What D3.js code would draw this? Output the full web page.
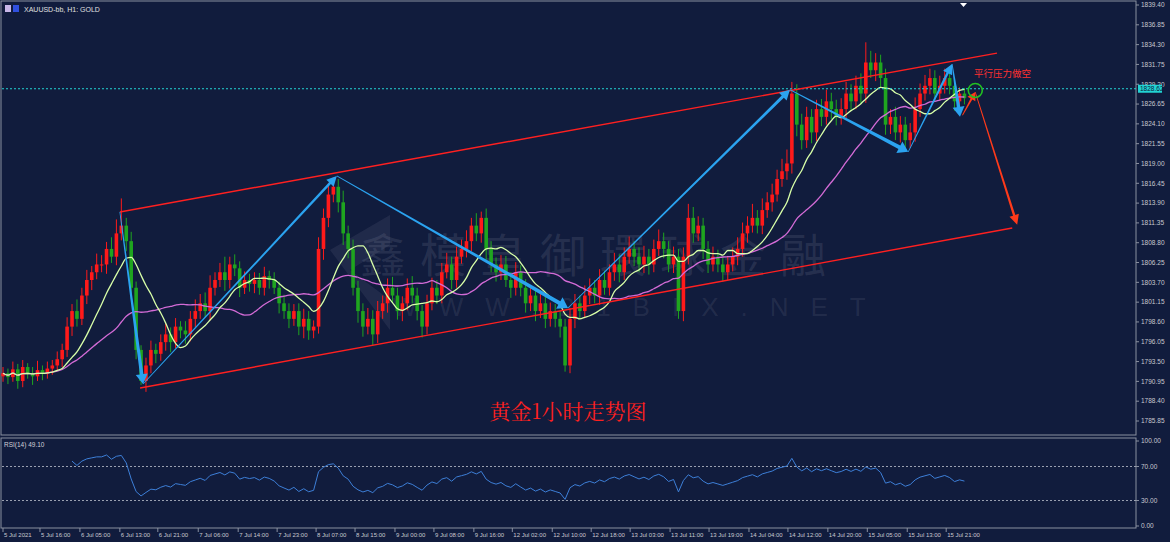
<!DOCTYPE html>
<html><head><meta charset="utf-8">
<script src="https://cdn.jsdelivr.net/npm/d3@7/dist/d3.min.js"></script>
<style>body{margin:0;background:#111c3d}svg{display:block}</style></head>
<body><svg id="c" width="1170" height="542"></svg>
<script>
const closes=[1792,1791.5,1792.5,1791,1792.8,1792,1791.6,1792.4,1792,1792.6,
1793,1793.8,1795,1798,1800,1799,1802,1804,1805,1806,
1806,1808,1807,1810,1811,1809,1803,1795,1791,1793,
1795,1794.5,1796,1797,1796,1798,1797.5,1797,1799,1800,
1801,1800,1803,1804,1805,1804,1806,1805.5,1803,1804,
1803.5,1804,1803,1804.5,1804,1803,1801,1800,1799,1800,
1798,1799,1797.5,1798,1808,1812,1815,1816,1814,1810,
1808,1803,1800,1798,1799,1797,1800,1801,1803,1802,
1800,1801,1803,1802,1800,1798,1801,1803,1802,1805,
1806,1804,1807,1808,1809,1811,1810,1812,1808,1806,
1805,1806,1804,1803,1805,1803,1801,1802,1800,1801,
1799,1800,1799,1798,1793,1799,1801,1800,1802,1803,
1802,1804,1803,1805,1806,1805,1807,1808,1807,1806,
1807,1806,1808,1809,1808,1806,1807,1800,1807,1812,
1810,1811,1808,1806,1807,1806,1805,1806,1807,1808,
1810,1811,1812,1811,1813,1814,1815,1817,1818,1819,
1828,1824,1822,1825,1823,1826,1825,1827,1826,1825,
1826,1828,1827,1829,1828,1832,1831,1832,1830,1824,
1825,1823,1824,1822,1823,1826,1828,1829,1830,1828,
1829,1830,1829,1827,1828,1827.4];
const wickUp=[.8,.6,1,.7,.9,.5,.8,1.2,.6,.9,.7,1,.8,1.2,.9,1.5,1,1.3,.8,1.4,
1.2,.9,1.5,1.8,3.5,1,1.2,.8,.6,1,1.2,.8,1,1.4,.9,1.1,.7,1.2,1,1.5,
1.2,1.4,1.6,1,1.2,2,1,1.3,.9,1.1,.8,1,.9,1.2,.7,1,.8,1.1,1,.9,
1,1.3,1,.8,1.5,1.2,1.5,1.2,1,1.5,1,1.2,.9,1,1.4,1.1,1.3,1,1.2,1.4,
1,.9,1.2,1.5,1,.8,1.1,1.3,1,1.2,1.5,1,1.3,1.2,1.4,1,1.6,.8,1.2,1,
.9,1.2,1.1,1,1.3,.9,1.1,1,.8,1.2,1,1.1,.9,1,1,1.4,1.2,1,1.3,1.2,
1,1.4,1.2,1,1.5,1.3,1.2,1.6,1,1.2,1.4,1,1.2,1.5,1.1,1,1.3,1,1.2,1.8,
1.4,1.2,1,1,1.3,.9,1,1.1,1.2,1.5,1.4,1.2,1.8,1,1.5,1.3,1.4,1.2,1.6,1.8,
1.5,1.2,1.4,1.3,1,1.2,1.3,1.5,1.1,1.2,1.4,1.5,1.2,1.3,1.6,2.6,1.5,1.2,1,1.2,
1,1.3,1.1,1,1.2,1.5,1.3,1.4,1.2,1,1.3,1.2,.9,1,.8,.7];
const wickDn=[.7,.9,.6,1,.8,.7,1.1,.6,.9,.7,.8,.6,1,.9,1.2,1,.8,1.1,1.3,.9,
1,1.2,.8,1.1,.9,1.3,1.5,1.2,.5,1.4,1,1.2,.9,1.1,1.3,.8,1,1.2,.9,1.1,
1,.8,1.2,1,.9,1.4,1.1,1,1.2,.8,1,1.2,.9,1,1.1,.8,1.3,1,1.2,.9,
1.1,1.5,1.2,1,.9,1.4,1.2,1,1.3,1.5,1.2,1,1.5,1.3,1,1.4,1.1,1,1.2,.9,
1.1,1.3,.9,1,1.2,1.4,1,.9,1.1,1,.8,1.2,1,.9,1.1,1.3,1,1.2,1.4,1,
1.2,1,.9,1.3,1,1.1,1.2,1,1.3,.9,1.2,1,1.1,1.4,.8,1,1.2,1,.9,1.1,
1,1.2,.9,1,1.1,1.3,1,.9,1.2,1,1.1,1.3,1,.9,1.2,1,1.1,1,1.3,1,
1.2,1,1.3,1.1,.9,1,1.2,1,.9,1.1,1,1.2,.9,1,1.1,1,1.2,.9,1,1.1,
1.3,1.5,1.2,1,1.4,1.1,1.2,1,1.3,1.1,1,1.2,1.1,1,1.3,1.2,1,1.4,1.2,1.3,
1.2,1,1.3,1.1,1,1.2,1,.9,1.1,1,.9,1,1.1,1.2,.9,.8];
const yTicks=[1839.40,1836.85,1834.30,1831.75,1829.20,1826.65,1824.10,1821.55,1819.00,1816.45,1813.90,1811.35,1808.80,1806.25,1803.70,1801.15,1798.60,1796.05,1793.50,1790.95,1788.40,1785.85];
const rsiTicks=[100,70,30,0];
const timeLabels=["5 Jul 2021","5 Jul 16:00","6 Jul 05:00","6 Jul 13:00","6 Jul 21:00","7 Jul 06:00","7 Jul 14:00","7 Jul 23:00","8 Jul 07:00","8 Jul 15:00","9 Jul 00:00","9 Jul 08:00","9 Jul 16:00","12 Jul 02:00","12 Jul 10:00","12 Jul 18:00","13 Jul 03:00","13 Jul 11:00","13 Jul 19:00","14 Jul 04:00","14 Jul 12:00","14 Jul 20:00","15 Jul 05:00","15 Jul 13:00","15 Jul 21:00"];
const timeBars=[0,7.5,15.6,23.7,31.4,39.6,47.7,55.6,63.5,71.4,79.5,87.4,95.5,103.3,111.4,119.3,127.2,135.3,143.2,151.3,159.2,167.3,175.3,183.4,191.3];
const channelUpper=[[23.7,1812.76],[201.6,1833.2]];
const channelLower=[[27.8,1790.1],[204.7,1810.7]];
const zigzag=[[23.7,1812.76],[28.4,1790.6],[67.7,1817.4],[114.6,1800.4],[159.6,1828.5],[183.6,1820.5],[192.5,1831.8],[194.1,1825.0]];
const zigWidth=[3.5,2.5,4,3,4,2.5,3.5];
const redArrow=[[194.6,1825.2],[197.2,1828.2],[205.7,1811.1]];
const circlePt=[197.2,1828.4];
const currentPrice=1828.62;
const maFast=10, maSlow=24, rsiN=14;

const svg=d3.select("#c");
const W=1170,H=542,PR=1136;
const x=d3.scaleLinear().domain([0,230]).range([3,1137]);
const y=d3.scaleLinear().domain([1785.85,1839.40]).range([421,5]);
const yr=d3.scaleLinear().domain([0,100]).range([526,441]);
svg.append("rect").attr("width",W).attr("height",H).attr("fill","#111c3d");
const gray="#8a90a0";
svg.append("rect").attr("x",1).attr("y",1).attr("width",PR-1).attr("height",434).attr("fill","none").attr("stroke",gray);
svg.append("rect").attr("x",1).attr("y",438).attr("width",PR-1).attr("height",90).attr("fill","none").attr("stroke",gray);
// watermark
svg.append("text").attr("x",600).attr("y",272).attr("text-anchor","middle").attr("font-family","Noto Sans CJK SC").attr("font-size",46).attr("letter-spacing",14).attr("fill","rgba(150,150,170,0.17)").text("鑫模皇御環球金融");
svg.append("text").attr("x",640).attr("y",316).attr("text-anchor","middle").attr("font-family","Liberation Sans").attr("font-size",26).attr("letter-spacing",22).attr("fill","rgba(150,150,170,0.15)").text("WWW.21BIX.NET");
svg.append("path").attr("d","M330,250 L390,215 L390,245 L350,270 L390,300 L390,330 Z").attr("fill","rgba(150,150,170,0.12)");
const bars=closes.map((c,i)=>{const o=i?closes[i-1]:c-0.4;return{i,o,c,h:Math.max(o,c)+wickUp[i],l:Math.min(o,c)-wickDn[i]};});
function sma(n){return closes.map((_,i)=>d3.mean(closes.slice(Math.max(0,i-n+1),i+1)));}
const f=sma(maFast),s=sma(maSlow);
const cg=svg.append("g");
cg.selectAll("line").data(bars).join("line").attr("x1",d=>x(d.i)).attr("x2",d=>x(d.i)).attr("y1",d=>y(d.h)).attr("y2",d=>y(d.l)).attr("stroke",d=>d.c>=d.o?"#ff1a1a":"#1fa51f");
cg.selectAll("rect").data(bars).join("rect").attr("x",d=>x(d.i)-1.8).attr("width",3.6).attr("y",d=>y(Math.max(d.o,d.c))).attr("height",d=>Math.max(1,Math.abs(y(d.o)-y(d.c)))).attr("fill",d=>d.c>=d.o?"#ff1a1a":"#1fa51f");
const ln=d3.line().curve(d3.curveMonotoneX).x((d,i)=>x(i)).y(d=>y(d));
svg.append("path").attr("d",ln(s)).attr("fill","none").attr("stroke","#d36bd6").attr("stroke-width",1.3);
svg.append("path").attr("d",ln(f)).attr("fill","none").attr("stroke","#d8ffa8").attr("stroke-width",1.3);
svg.append("line").attr("x1",2).attr("x2",PR).attr("y1",y(currentPrice)).attr("y2",y(currentPrice)).attr("stroke","#22d3d3").attr("stroke-dasharray","2,2");
const pl=d3.line().x(d=>x(d[0])).y(d=>y(d[1]));
[channelUpper,channelLower].forEach(c=>svg.append("path").attr("d",pl(c)).attr("stroke","#ff2020").attr("stroke-width",1.4).attr("fill","none"));
function arrow(p0,p1,w,col){
 const X0=x(p0[0]),Y0=y(p0[1]),X1=x(p1[0]),Y1=y(p1[1]);
 const dx=X1-X0,dy=Y1-Y0,L=Math.hypot(dx,dy),ux=dx/L,uy=dy/L,nx=-uy,ny=ux;
 const hl=Math.min(10,L*0.3),hw=w+2.5;
 const bx=X1-ux*hl,by=Y1-uy*hl;
 const pts=[[X0+nx*0.4,Y0+ny*0.4],[bx+nx*w/2,by+ny*w/2],[bx+nx*hw,by+ny*hw],[X1,Y1],[bx-nx*hw,by-ny*hw],[bx-nx*w/2,by-ny*w/2],[X0-nx*0.4,Y0-ny*0.4]];
 svg.append("path").attr("d","M"+pts.map(p=>p.join(",")).join("L")+"Z").attr("fill",col);
}
for(let i=0;i<zigzag.length-1;i++)arrow(zigzag[i],zigzag[i+1],zigWidth[i],"#2ba3f0");
arrow(redArrow[0],redArrow[1],2,"#ff3a1a");
arrow(redArrow[1],redArrow[2],2.4,"#ff3a1a");
svg.append("circle").attr("cx",x(circlePt[0])).attr("cy",y(circlePt[1])).attr("r",7).attr("fill","none").attr("stroke","#22c022").attr("stroke-width",1.6);
svg.append("text").attr("x",974).attr("y",77).attr("font-family","Noto Sans CJK SC").attr("font-size",9.5).attr("fill","#ff3030").text("平行压力做空");
svg.append("text").attr("x",568).attr("y",419).attr("text-anchor","middle").attr("font-family","Noto Serif CJK SC, Noto Sans CJK SC").attr("font-size",21).attr("fill","#ff2020").text("黄金1小时走势图");
svg.append("rect").attr("x",5).attr("y",5).attr("width",6).attr("height",7).attr("fill","#c8b6e8");
svg.append("rect").attr("x",13).attr("y",5).attr("width",6).attr("height",7).attr("fill","#3050e0");
svg.append("text").attr("x",24).attr("y",12).attr("font-family","Liberation Sans").attr("font-size",7).attr("fill","#e0e0e0").text("XAUUSD-bb, H1:  GOLD");
svg.append("path").attr("d","M960,3 L967,3 L963.5,7 Z").attr("fill","#fff");
const ax=svg.append("g").attr("font-family","Liberation Sans").attr("font-size",6.5).attr("fill","#c8c8d0");
yTicks.forEach(t=>{ax.append("line").attr("x1",PR).attr("x2",PR+3).attr("y1",y(t)).attr("y2",y(t)).attr("stroke",gray);ax.append("text").attr("x",PR+5).attr("y",y(t)+2.3).text(t.toFixed(2));});
svg.append("rect").attr("x",PR+2).attr("y",y(currentPrice)-4).attr("width",24).attr("height",8).attr("fill","#22d3d3");
svg.append("text").attr("x",PR+4).attr("y",y(currentPrice)+2.5).attr("font-family","Liberation Sans").attr("font-size",6.5).attr("fill","#0a1a3a").text(currentPrice.toFixed(2));
rsiTicks.forEach(t=>{ax.append("line").attr("x1",PR).attr("x2",PR+3).attr("y1",yr(t)).attr("y2",yr(t)).attr("stroke",gray);ax.append("text").attr("x",PR+5).attr("y",yr(t)+2.3).text(t.toFixed(2));});
const rsi=[];let ag=0,al=0;
for(let i=1;i<closes.length;i++){const d=closes[i]-closes[i-1],g=Math.max(d,0),l=Math.max(-d,0);
 if(i<=rsiN){ag+=g/rsiN;al+=l/rsiN;}else{ag=(ag*(rsiN-1)+g)/rsiN;al=(al*(rsiN-1)+l)/rsiN;}
 if(i>=rsiN)rsi.push([i,al===0?100:100-100/(1+ag/al)]);}
[70,30].forEach(t=>svg.append("line").attr("x1",2).attr("x2",PR).attr("y1",yr(t)).attr("y2",yr(t)).attr("stroke","#9aa0b0").attr("stroke-dasharray","2,2"));
svg.append("path").attr("d",d3.line().x(d=>x(d[0])).y(d=>yr(d[1]))(rsi)).attr("fill","none").attr("stroke","#3d7fd8").attr("stroke-width",1);
svg.append("text").attr("x",4).attr("y",447).attr("font-family","Liberation Sans").attr("font-size",6.5).attr("fill","#d0d0d8").text("RSI(14) 49.10");
const tx=svg.append("g").attr("font-family","Liberation Sans").attr("font-size",6).attr("fill","#c8c8d0");
timeLabels.forEach((t,i)=>{const xx=x(timeBars[i]);tx.append("line").attr("x1",xx).attr("x2",xx).attr("y1",528).attr("y2",532).attr("stroke",gray);tx.append("text").attr("x",xx+1).attr("y",537).text(t);});
</script></body></html>
